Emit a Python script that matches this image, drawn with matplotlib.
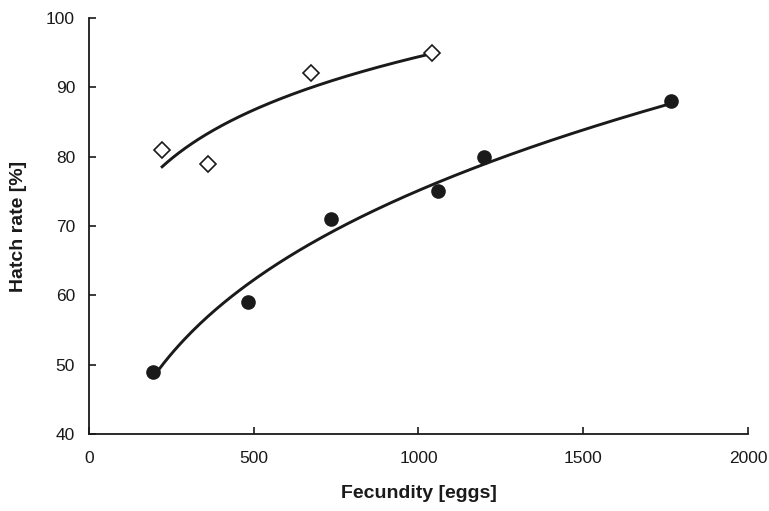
import numpy as np
import matplotlib
matplotlib.use("Agg")
import matplotlib.pyplot as plt

plt.rcParams["font.family"] = ["Liberation Sans", "DejaVu Sans"]

# ======================
# Data
# ======================
diamond_x = [222, 362, 675, 1042]
diamond_y = [81, 79, 92, 95]

circle_x = [195, 483, 736, 1058, 1200, 1766]
circle_y = [49, 59, 71, 75, 80, 88]

x_ticks = [0, 500, 1000, 1500, 2000]
y_ticks = [40, 50, 60, 70, 80, 90, 100]


def power_trend(x, y):
    # power trendline y = a * x^b, fitted in log space
    b, ln_a = np.polyfit(np.log(x), np.log(y), 1)
    xs = np.linspace(min(x), max(x), 200)
    return xs, np.exp(ln_a) * xs ** b


ink = "#1a1a1a"

fig = plt.figure(figsize=(7.69, 5.11), dpi=100)
ax = fig.add_axes([0.1157, 0.1507, 0.857, 0.814])

xs, ys = power_trend(diamond_x, diamond_y)
ax.plot(xs, ys, color=ink, linewidth=2.1, zorder=2)
xs, ys = power_trend(circle_x, circle_y)
ax.plot(xs, ys, color=ink, linewidth=2.1, zorder=2)

ax.plot(diamond_x, diamond_y, linestyle="none", marker="D", markersize=8.0,
        markerfacecolor="white", markeredgecolor=ink, markeredgewidth=1.2,
        zorder=3, clip_on=False)
ax.plot(circle_x, circle_y, linestyle="none", marker="o", markersize=9.5,
        markerfacecolor=ink, markeredgecolor=ink, zorder=3, clip_on=False)

ax.set_xlim(0, 2000)
ax.set_ylim(40, 100)
ax.set_xticks(x_ticks)
ax.set_yticks(y_ticks)

for side in ["top", "right"]:
    ax.spines[side].set_visible(False)
for side in ["left", "bottom"]:
    ax.spines[side].set_linewidth(1.3)
    ax.spines[side].set_color(ink)

ax.tick_params(direction="in", length=5, width=1.2, colors=ink,
               labelsize=12.5, labelcolor=ink)
ax.tick_params(axis="x", pad=12)
ax.tick_params(axis="y", pad=10)

ax.set_xlabel("Fecundity [eggs]", fontsize=14, fontweight="bold",
              color=ink, labelpad=14)
ax.set_ylabel("Hatch rate [%]", fontsize=14, fontweight="bold",
              color=ink, labelpad=14)

plt.savefig("out.png", dpi=100)
